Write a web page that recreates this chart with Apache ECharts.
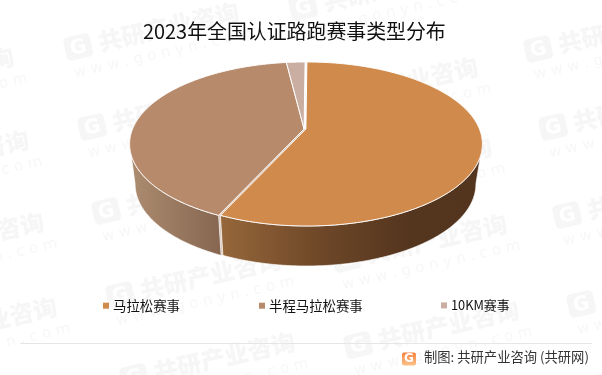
<!DOCTYPE html>
<html><head><meta charset="utf-8">
<style>html,body{margin:0;padding:0;background:#fff}#c{width:602px;height:375px}</style>
<script src="https://cdn.jsdelivr.net/npm/echarts@6/dist/echarts.min.js"></script>
</head><body><div id="c"></div>
<script>
const categories = ['马拉松赛事', '半程马拉松赛事', '10KM赛事'];
const values = [58.2, 40.1, 1.7];
const colors = ['#d08a4c', '#b88a6c', '#cbaea2'];
const wallStops = [
  [[0, '#96673a'], [0.4, '#6c4627'], [0.72, '#54351e'], [1, '#53341e']],
  [[0, '#ad8c70'], [1, '#866650']],
  [[0, '#b0968a'], [1, '#9a8275']]
];
const titleText = '2023年全国认证路跑赛事类型分布';
const sourceText = '制图: 共研产业咨询 (共研网)';
const wmAnchors = [
  [-160, 95], [-145, 178], [-130, 260], [-117, 345],
  [51, -30], [65, 50], [79, 130], [93, 214], [107, 298], [121, 380],
  [290, 10], [304, 105], [318, 185], [333, 262], [345, 348],
  [525, 52], [540, 130], [554, 218], [568, 307], [582, 390]
];

const FONT = '"Noto Sans CJK SC","Noto Sans",sans-serif';
const total = values.reduce((a, b) => a + b, 0);
const starts = values.map((_, i) => values.slice(0, i).reduce((a, b) => a + b, 0) / total * 360);
const topRim = { cx: 306, cy: 144, rx: 175.5, ry: 82 };
const botRim = { cx: 305.5, cy: 184, rx: 169.5, ry: 82 };
const apex = [305, 129];
const offs = [[0.9, 0], [-0.9, 0], [-0.9, 0]];
function rim(e, deg, o) {
  const t = deg * Math.PI / 180;
  return [e.cx + e.rx * Math.sin(t) + o[0], e.cy - e.ry * Math.cos(t) + o[1]];
}
function arc(e, a, b, o) {
  const pts = [];
  const n = Math.max(2, Math.ceil(Math.abs(b - a) * 2));
  for (let i = 0; i <= n; i++) pts.push(rim(e, a + (b - a) * i / n, o));
  return pts;
}
function renderSlice(i) {
  return function (params, api) {
    const sweep = api.value(0) / total * 360;
    const a = starts[i], b = a + sweep, o = offs[i];
    const children = [];
    const wa = Math.max(a, 90), wb = Math.min(b, 270);
    if (wb > wa) {
      const poly = arc(topRim, wa, wb, o).concat(arc(botRim, wa, wb, o).reverse());
      children.push({
        type: 'polygon', shape: { points: poly },
        style: {
          fill: new echarts.graphic.LinearGradient(0, 0, 1, 0,
            wallStops[i].map(s => ({ offset: s[0], color: s[1] }))),
          stroke: 'rgba(255,255,255,0.85)', lineWidth: 0.8
        }
      });
    }
    children.push({
      type: 'polygon',
      shape: { points: [[apex[0] + o[0], apex[1] + o[1]]].concat(arc(topRim, a, b, o)) },
      style: { fill: api.visual('color'), stroke: '#fff', lineWidth: 1 }
    });
    if (i === 0) {
      const s = rim(topRim, b, [0, 0]), d = rim(botRim, b, [0, 0]);
      children.push({ type: 'polyline', shape: { points: [apex, s, d] },
        style: { fill: null, stroke: '#c8ab96', lineWidth: 0.7 }, z2: 5 });
    }
    return { type: 'group', children };
  };
}
const wmGraphics = [];
wmAnchors.forEach(p => {
  const rot = 12.7 * Math.PI / 180;
  wmGraphics.push({ type: 'group', x: p[0], y: p[1], rotation: rot, z: 0, silent: true, children: [
    { type: 'rect', shape: { x: 0, y: -12, width: 27, height: 24, r: 5 }, style: { fill: '#f6f6f6' } },
    { type: 'text', x: 13.5, y: 1, style: { text: 'G', font: '900 20px "DejaVu Sans",sans-serif', fill: '#ffffff', textAlign: 'center', textVerticalAlign: 'middle' } },
    { type: 'text', x: 34, y: 0, style: { text: '共研产业咨询', font: '900 24px ' + FONT, fill: '#f6f6f6', textVerticalAlign: 'middle' } },
    { type: 'text', x: 4, y: 25, style: { text: 'w w w . g o n y n . c o m', font: '15px "DejaVu Sans",sans-serif', fill: '#f7f7f7', textVerticalAlign: 'middle' } }
  ]});
});
const legendLefts = [103, 259, 441];
const legendSizes = [13.4, 13.4, 12.8];
const chart = echarts.init(document.getElementById('c'), null, { renderer: 'canvas' });
chart.setOption({
  animation: false,
  backgroundColor: '#fff',
  title: { text: titleText, left: 143, top: 21, itemGap: 0, padding: 0,
    textStyle: { fontFamily: FONT, fontSize: 19.9, fontWeight: 'normal', color: '#111' } },
  legend: categories.map((c, i) => ({
    data: [c], left: legendLefts[i], top: 299, padding: 0, icon: 'rect',
    itemWidth: 6, itemHeight: 6, itemGap: 0, selectedMode: false,
    textStyle: { fontFamily: FONT, fontSize: legendSizes[i], color: '#111', padding: [0, 0, 0, -1] }
  })),
  series: categories.map((c, i) => ({
    type: 'custom', name: c, coordinateSystem: 'none', z: 2,
    renderItem: renderSlice(i),
    itemStyle: { color: colors[i] },
    data: [[values[i]]],
    silent: true
  })),
  graphic: wmGraphics.concat([
    { type: 'line', z: 1, shape: { x1: 20, y1: 343.5, x2: 592, y2: 343.5 }, style: { stroke: '#e6e6e6', lineWidth: 1 } },
    { type: 'rect', z: 1, shape: { x: 402, y: 352.5, width: 14, height: 13, r: 2 },
      style: { fill: new echarts.graphic.LinearGradient(0, 0, 0, 1, [{ offset: 0, color: '#f5803a' }, { offset: 1, color: '#fcc28a' }]) } },
    { type: 'text', z: 1, x: 409, y: 359, style: { text: 'G', font: 'bold 12px "DejaVu Sans",sans-serif', fill: '#fff', textAlign: 'center', textVerticalAlign: 'middle' } },
    { type: 'text', z: 1, x: 424, y: 357, style: { text: sourceText, font: '13.3px ' + FONT, fill: '#333', textVerticalAlign: 'middle' } }
  ])
});
</script></body></html>
